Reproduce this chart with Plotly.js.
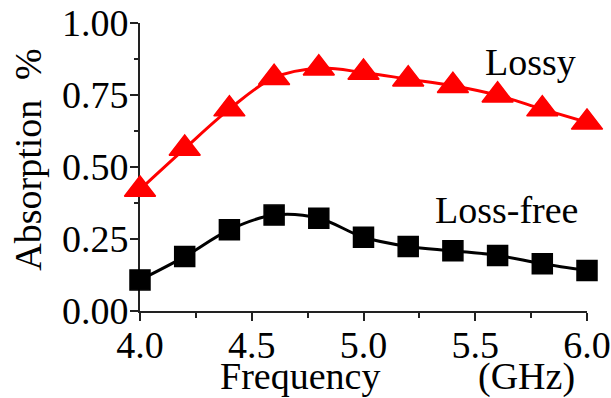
<!DOCTYPE html>
<html>
<head>
<meta charset="utf-8">
<script src="https://cdn.plot.ly/plotly-3.0.1.min.js"></script>
<style>html,body{margin:0;padding:0;background:#fff;}#chart{width:611px;height:398px;}</style>
</head>
<body>
<div id="chart"></div>
<script>
const frequency = [4.0, 4.2, 4.4, 4.6, 4.8, 5.0, 5.2, 5.4, 5.6, 5.8, 6.0];
const lossy = [0.422, 0.564, 0.701, 0.810, 0.843, 0.828, 0.805, 0.782, 0.749, 0.701, 0.655];
const lossFree = [0.108, 0.189, 0.282, 0.333, 0.322, 0.256, 0.224, 0.209, 0.193, 0.164, 0.141];
const xTickVals = [4.0, 4.5, 5.0, 5.5, 6.0];
const xTickText = ["4.0", "4.5", "5.0", "5.5", "6.0"];
const yTickVals = [0, 0.25, 0.5, 0.75, 1.0];
const yTickText = ["0.00", "0.25", "0.50", "0.75", "1.00"];

const FONT = "Liberation Serif, Times New Roman, serif";

const traces = [
  {
    x: frequency, y: lossy, name: "Lossy", type: "scatter", mode: "lines+markers",
    cliponaxis: false,
    line: {color: "#ff0000", width: 3, shape: "spline", smoothing: 1},
    marker: {symbol: "triangle-up", size: 27, color: "#ff0000", line: {color: "#ff0000", width: 1.5}}
  },
  {
    x: frequency, y: lossFree, name: "Loss-free", type: "scatter", mode: "lines+markers",
    cliponaxis: false,
    line: {color: "#000000", width: 3, shape: "spline", smoothing: 1},
    marker: {symbol: "square", size: 20, color: "#000000", line: {color: "#000000", width: 1.5}}
  }
];

const axisCommon = {
  showgrid: false, zeroline: false, showline: true, linecolor: "#222", linewidth: 2,
  ticks: "outside", ticklen: 8, tickwidth: 2, tickcolor: "#222",
  tickfont: {family: FONT, size: 38, color: "#000"},
  layer: "below traces", fixedrange: true
};

const layout = {
  width: 611, height: 398,
  margin: {l: 140, r: 24, t: 23, b: 86.5},
  paper_bgcolor: "#fff", plot_bgcolor: "#fff",
  showlegend: false,
  font: {family: FONT, size: 38, color: "#000"},
  xaxis: Object.assign({}, axisCommon, {
    range: [4, 6], tickvals: xTickVals, ticktext: xTickText,
    ticklabelstandoff: -9,
    minor: {dtick: 0.25, tick0: 4, ticks: "outside", ticklen: 4.5, tickwidth: 2, tickcolor: "#222"}
  }),
  yaxis: Object.assign({}, axisCommon, {
    range: [0, 1], tickvals: yTickVals, ticktext: yTickText,
    ticklabelstandoff: -6,
    minor: {dtick: 0.125, tick0: 0, ticks: "outside", ticklen: 4.5, tickwidth: 2, tickcolor: "#222"}
  }),
  annotations: [
    {text: "Lossy", x: 5.749, y: 0.864, xref: "x", yref: "y", showarrow: false,
     xanchor: "center", yanchor: "middle", font: {family: FONT, size: 38, color: "#000"}},
    {text: "Loss-free", x: 5.642, y: 0.351, xref: "x", yref: "y", showarrow: false,
     xanchor: "center", yanchor: "middle", font: {family: FONT, size: 38, color: "#000"}},
    {text: "Frequency", x: 0.358, y: -0.227, xref: "paper", yref: "paper", showarrow: false,
     xanchor: "center", yanchor: "middle", font: {family: FONT, size: 38, color: "#000"}},
    {text: "(GHz)", x: 0.864, y: -0.227, xref: "paper", yref: "paper", showarrow: false,
     xanchor: "center", yanchor: "middle", font: {family: FONT, size: 38, color: "#000"}},
    {text: "Absorption", x: -0.251, y: 0.438, xref: "paper", yref: "paper", showarrow: false,
     textangle: -90, xanchor: "center", yanchor: "middle", font: {family: FONT, size: 38, color: "#000"}},
    {text: "%", x: -0.251, y: 0.857, xref: "paper", yref: "paper", showarrow: false,
     textangle: -90, xanchor: "center", yanchor: "middle", font: {family: FONT, size: 38, color: "#000"}}
  ]
};

Plotly.newPlot("chart", traces, layout, {staticPlot: true, displayModeBar: false});
</script>
</body>
</html>
